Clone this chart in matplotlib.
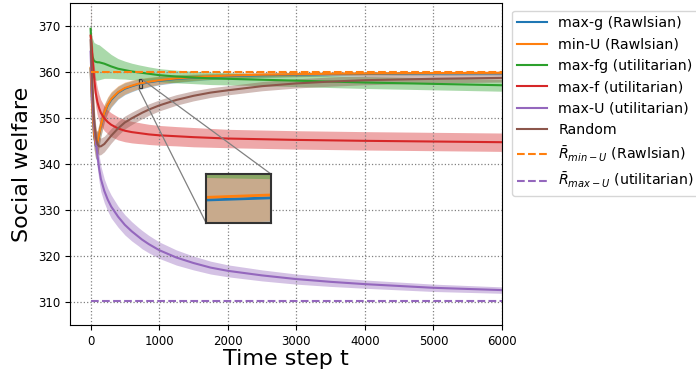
import numpy as np
import matplotlib
matplotlib.use("Agg")
from matplotlib import pyplot as plt
from mpl_toolkits.axes_grid1.inset_locator import mark_inset

t = [0, 10, 25, 50, 75, 100, 125, 150, 200, 250, 300, 400, 500, 600, 700, 750, 850,
     1000, 1250, 1500, 1750, 2000, 2500, 3000, 3500, 4000, 5000, 6000]

max_g = [360.8, 356.8, 351.8, 346.3, 344.0, 344.4, 346.3, 348.2, 351.0, 352.8, 354.0, 355.55, 356.45, 356.98,
         357.44, 357.53, 357.83, 358.18, 358.58, 358.83, 359.03, 359.18, 359.38, 359.5, 359.6, 359.65, 359.75, 359.8]
min_u = [361, 357, 352, 346.5, 344.2, 344.6, 346.5, 348.4, 351.2, 353, 354.2, 355.7, 356.6, 357.1,
         357.55, 357.65, 357.95, 358.3, 358.7, 358.95, 359.15, 359.3, 359.5, 359.6, 359.7, 359.75, 359.85, 359.9]
rawls_std = [2, 2.5, 3, 3, 3, 2.8, 2.5, 2.2, 1.9, 1.7, 1.6, 1.4, 1.3, 1.2,
             1.1, 1.1, 1.0, 0.9, 0.8, 0.7, 0.6, 0.55, 0.5, 0.45, 0.4, 0.4, 0.35, 0.35]
max_fg = [369.5, 366, 363.5, 362.5, 362.3, 362.2, 362.2, 362.1, 361.9, 361.6, 361.3, 360.8, 360.5, 360.2,
          360.0, 359.9, 359.7, 359.4, 359.1, 358.9, 358.7, 358.6, 358.4, 358.2, 358.0, 357.8, 357.5, 357.2]
max_fg_std = [1.5, 3, 4, 4, 4, 3.9, 3.8, 3.6, 3.2, 2.9, 2.6, 2.2, 1.95, 1.8,
              1.65, 1.6, 1.5, 1.42, 1.38, 1.35, 1.35, 1.33, 1.3, 1.3, 1.3, 1.3, 1.3, 1.3]
max_f = [368, 366.5, 363.5, 359, 355.5, 353.5, 352.2, 351.2, 350, 349.2, 348.6, 347.8, 347.3, 347.0,
         346.8, 346.7, 346.5, 346.3, 346.1, 345.9, 345.75, 345.6, 345.45, 345.3, 345.2, 345.1, 344.95, 344.8]
max_f_std = [1, 2, 3, 3, 3, 3, 2.9, 2.8, 2.7, 2.6, 2.6, 2.5, 2.4, 2.35,
             2.3, 2.25, 2.2, 2.15, 2.1, 2.1, 2.05, 2, 2, 2, 2, 2, 2, 2]
max_u = [364.5, 360, 354, 348.5, 345, 342, 339, 336.8, 334.2, 332.3, 330.8, 328.6, 326.8, 325.4,
         324.2, 323.6, 322.6, 321.3, 319.7, 318.5, 317.5, 316.8, 315.8, 315.0, 314.4, 313.9, 313.1, 312.6]
max_u_std = [1, 2, 3, 3, 3, 3, 2.9, 2.8, 2.6, 2.5, 2.5, 2.3, 2.2, 2.1,
             2.0, 2.0, 1.9, 1.8, 1.65, 1.5, 1.4, 1.3, 1.2, 1.1, 1.0, 0.9, 0.8, 0.7]
rand = [367, 363, 358, 350, 346, 344.4, 343.9, 343.9, 344.4, 345.3, 346.2, 347.8, 349.1, 350.0,
        350.8, 351.2, 351.9, 352.8, 354.0, 354.9, 355.6, 356.1, 357.0, 357.6, 358.0, 358.3, 358.6, 358.8]
rand_std = [9, 7, 4, 3, 2.5, 2, 1.9, 1.8, 1.7, 1.65, 1.6, 1.5, 1.4, 1.35,
            1.3, 1.3, 1.25, 1.2, 1.15, 1.1, 1.05, 1.0, 1.0, 1.0, 1.0, 1.0, 0.9, 0.9]

r_min_u = 360.0
r_max_u = 310.2

series = [
    (max_g, rawls_std, 'tab:blue', 'max-g (Rawlsian)'),
    (min_u, rawls_std, 'tab:orange', 'min-U (Rawlsian)'),
    (max_fg, max_fg_std, 'tab:green', 'max-fg (utilitarian)'),
    (max_f, max_f_std, 'tab:red', 'max-f (utilitarian)'),
    (max_u, max_u_std, 'tab:purple', 'max-U (utilitarian)'),
    (rand, rand_std, 'tab:brown', 'Random'),
]

fig = plt.figure(figsize=(6.96, 3.75), dpi=100)
ax = fig.add_axes([0.1006, 0.1333, 0.6207, 0.8574])
axins = fig.add_axes([0.296, 0.406, 0.094, 0.129])

def draw(a, lw):
    for y, s, c, lab in series:
        y = np.array(y); s = np.array(s)
        a.fill_between(t, y - s, y + s, color=c, alpha=0.4, lw=0)
        a.plot(t, y, color=c, lw=lw, label=lab)
    a.plot([t[0], t[-1]], [r_min_u, r_min_u], '--', color='tab:orange', lw=1.5,
           label=r'$\bar{R}_{min-U}$ (Rawlsian)')
    a.plot([t[0], t[-1]], [r_max_u, r_max_u], '--', color='tab:purple', lw=1.5,
           label=r'$\bar{R}_{max-U}$ (utilitarian)')

draw(ax, 1.5)
ax.set_xlim(-300, 6000)
ax.set_ylim(305, 375)
ax.grid(True, linestyle=':', color='gray', lw=0.9)
ax.tick_params(labelsize=8.5)
ax.set_xlabel('Time step t', fontsize=16, labelpad=1)
ax.set_ylabel('Social welfare', fontsize=16, labelpad=4)
ax.legend(loc='upper left', bbox_to_anchor=(1.006, 1.0), fontsize=10.2,
          borderaxespad=0.5, labelspacing=0.52, handlelength=2.1)

draw(axins, 2)
axins.set_xlim(700, 750)
axins.set_ylim(356.5, 358.5)
axins.set_xticks([])
axins.set_yticks([])
for sp in axins.spines.values():
    sp.set_linewidth(1.5)
    sp.set_color('0.2')

pp, p1, p2 = mark_inset(ax, axins, loc1=1, loc2=3, fc='none', ec='0.5', lw=0.9)
pp.set_edgecolor('0.2')

fig.savefig('out.png', dpi=100)
